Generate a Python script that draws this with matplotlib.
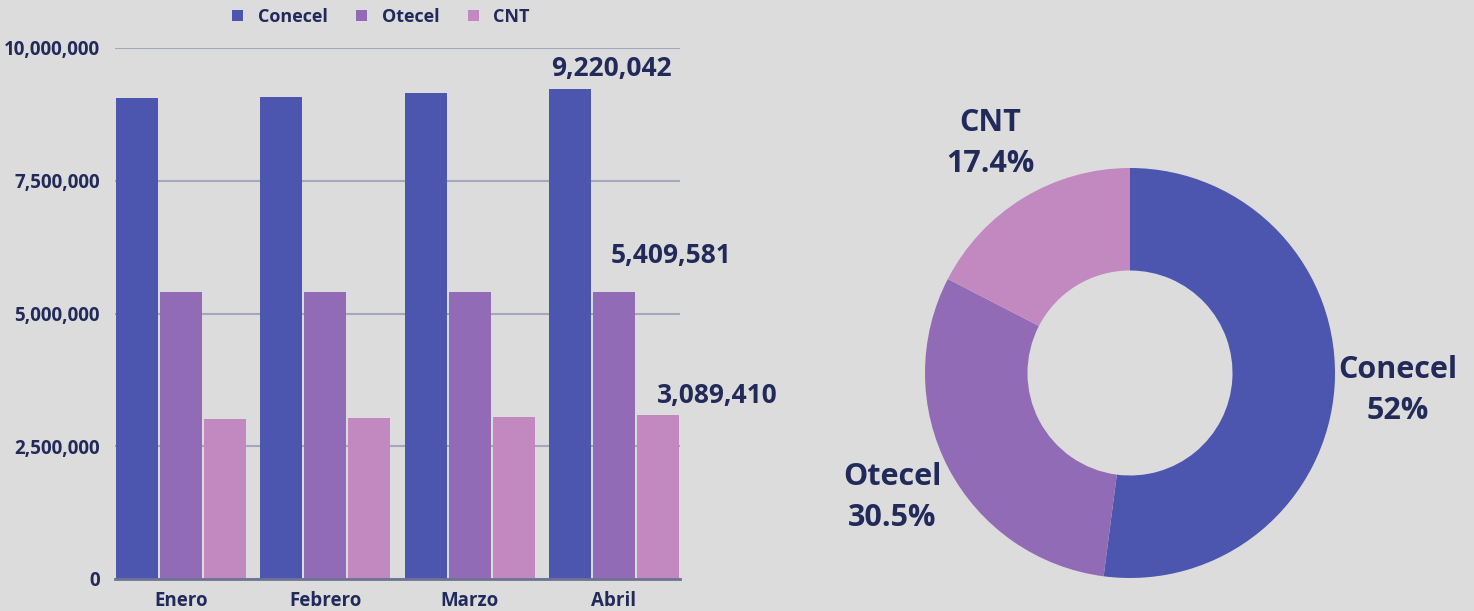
import matplotlib.pyplot as plt
import numpy as np

plt.rcParams['font.family'] = ['Open Sans', 'DejaVu Sans']

months = ['Enero', 'Febrero', 'Marzo', 'Abril']
series_names = ['Conecel', 'Otecel', 'CNT']
conecel = [9060000, 9080000, 9150000, 9220042]
otecel = [5409581, 5409581, 5409581, 5409581]
cnt = [3010000, 3030000, 3050000, 3089410]
share_pct = [52, 30.5, 17.4]
share_labels = ['Conecel\n52%', 'Otecel\n30.5%', 'CNT\n17.4%']

colors = ['#4c56ae', '#926bb6', '#c189c0']
text_color = '#222a5a'
bg = '#dcdcdd'

fig = plt.figure(figsize=(14.74, 6.11), dpi=100, facecolor=bg)

# bar chart
ax = fig.add_axes([115/1474, 1 - 579/611, 565/1474, 531/611])
ax.set_facecolor('none')
x = np.arange(len(months))
step = 0.305
bw = 0.29
all_series = [conecel, otecel, cnt]
for i, (vals, name) in enumerate(zip(all_series, series_names)):
    ax.bar(x + (i - 1) * step, vals, width=bw, color=colors[i], label=name, zorder=3)

ax.set_xlim(-1.5 * step, 3 + 1.5 * step)
ax.set_ylim(0, 10000000)
ax.set_yticks([0, 2500000, 5000000, 7500000, 10000000])
ax.yaxis.set_major_formatter(plt.FuncFormatter(lambda v, p: f'{int(v):,}'))
ax.grid(axis='y', color='#a3a8ba', linewidth=1.5, zorder=0)
ax.tick_params(axis='both', length=0, labelsize=13.5, labelcolor=text_color)
ax.tick_params(axis='y', pad=11)
ax.tick_params(axis='x', pad=9)
ax.set_xticks(x)
ax.set_xticklabels(months, fontweight='bold')
for lbl in ax.get_yticklabels():
    lbl.set_fontweight('bold')
for s in ['top', 'right', 'left']:
    ax.spines[s].set_visible(False)
ax.spines['bottom'].set_color('#6d7393')
ax.spines['bottom'].set_linewidth(2)
ax.spines['bottom'].set_zorder(4)

# value labels on the last month (pixel offsets from bar top centre)
label_offsets = [(-19, 13), (-3, 29), (-1, 12)]
last = len(months) - 1
for i, vals in enumerate(all_series):
    ax.annotate(f'{vals[last]:,}', (last + (i - 1) * step, vals[last]),
                xytext=label_offsets[i], textcoords='offset pixels', ha='left', va='baseline',
                fontsize=19, fontweight='bold', color=text_color)

leg = ax.legend(loc='center', bbox_to_anchor=(0.471, 1 + 31/531), ncol=3, frameon=False,
                fontsize=13, handlelength=0.6, handleheight=0.6, handletextpad=0.8,
                columnspacing=1.6, borderaxespad=0)
for t in leg.get_texts():
    t.set_fontweight('bold')
    t.set_color(text_color)

# donut chart
ax2 = fig.add_axes([(1130 - 205)/1474, 1 - (373 + 205)/611, 410/1474, 410/611])
wedges, texts = ax2.pie(share_pct, labels=share_labels, colors=colors, startangle=90,
                        counterclock=False, radius=1, labeldistance=1.31,
                        wedgeprops=dict(width=0.5, linewidth=0))
for t in texts:
    t.set_ha('center')
    t.set_va('center')
    t.set_fontsize(22)
    t.set_fontweight('bold')
    t.set_color(text_color)
    t.set_linespacing(1.5)
ax2.set_xlim(-1, 1)
ax2.set_ylim(-1, 1)

fig.savefig('out.png', dpi=100, facecolor=bg)
